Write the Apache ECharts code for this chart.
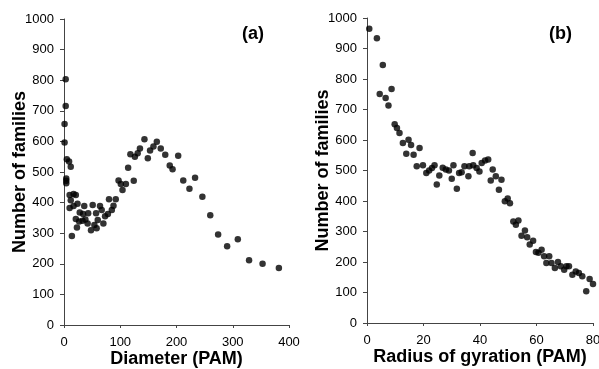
<!DOCTYPE html>
<html>
<head>
<meta charset="utf-8">
<script src="https://cdn.jsdelivr.net/npm/echarts@6/dist/echarts.min.js"></script>
<style>
  html, body { margin: 0; padding: 0; background: #fff; }
  #chart { width: 599px; height: 369px; }
</style>
</head>
<body>
<div id="chart"></div>
<script>
// panel (a): [diameter, number of families]
const diameterPoints = [
  [3, 803], [3, 716], [1, 657], [1, 596], [5, 542], [9, 534], [12, 517], [4, 479], [4, 463], [4, 471],
  [10, 425], [17, 428], [21, 425], [12, 408], [10, 382], [17, 389], [24, 396], [14, 291], [23, 319], [21, 346],
  [28, 368], [27, 338], [36, 389], [34, 363], [33, 341], [38, 345], [42, 332], [43, 365], [48, 310], [51, 392],
  [54, 327], [58, 316], [57, 365], [60, 343], [64, 389], [67, 376], [70, 332], [73, 355], [78, 363], [80, 411],
  [85, 376], [88, 390], [92, 411], [97, 472], [104, 441], [101, 461], [110, 461], [114, 514], [124, 471], [118, 558],
  [126, 550], [135, 577], [131, 561], [143, 607], [149, 545], [153, 570], [159, 583], [165, 599], [172, 577], [180, 556],
  [188, 521], [193, 509], [203, 553], [212, 472], [223, 445], [233, 481], [246, 419], [260, 359], [274, 296], [290, 257],
  [309, 280], [329, 212], [353, 200], [382, 186]
];

// panel (b): [radius of gyration, number of families]
const radiusPoints = [
  [0.8, 965], [3.5, 934], [5.6, 846], [4.5, 751], [6.6, 738], [7.6, 713], [8.7, 767], [9.8, 652], [10.6, 639], [11.5, 623],
  [12.7, 590], [13.9, 555], [14.7, 601], [15.6, 584], [16.5, 552], [17.6, 514], [18.6, 574], [19.8, 517], [21, 492], [22, 500],
  [23, 508], [23.9, 517], [24.7, 454], [25.6, 484], [26.8, 509], [27.9, 503], [29, 500], [30, 473], [30.6, 517], [31.8, 440],
  [32.6, 492], [33.5, 494], [34.5, 514], [35.9, 481], [36.2, 514], [37.4, 557], [37.6, 517], [38.8, 508], [39.8, 497], [40.6, 525],
  [41.8, 533], [42.9, 536], [43.8, 467], [44.5, 503], [45.6, 481], [46.7, 437], [47.6, 470], [48.8, 399], [49.8, 408], [50.6, 393],
  [51.8, 333], [52.7, 322], [53.6, 336], [54.7, 286], [55.9, 303], [56.7, 281], [57.6, 257], [58.8, 270], [59.8, 233], [60.7, 230],
  [61.8, 240], [62.7, 219], [63.5, 197], [64.5, 219], [65.3, 197], [66.5, 180], [67.6, 200], [68.6, 186], [69.8, 175], [70.6, 186],
  [71.5, 186], [72.7, 158], [73.9, 169], [75, 164], [76.2, 153], [77.6, 104], [78.8, 144], [80, 128]
];

const panelLabels = ["(a)", "(b)"];
const xNames = ["Diameter (PAM)", "Radius of gyration (PAM)"];
const yName = "Number of families";

const font = "Liberation Sans, Arial, Helvetica, sans-serif";
const axisColor = "#444";

const makeX = (gridIndex, max, interval, name) => ({
  type: "value",
  gridIndex,
  min: 0,
  max,
  interval,
  name,
  nameLocation: "middle",
  nameGap: 25,
  nameMoveOverlap: false,
  nameTextStyle: { fontFamily: font, fontSize: 18, fontWeight: "bold", color: "#000" },
  axisLine: { lineStyle: { color: axisColor, width: 1 } },
  axisTick: { show: true, length: 3, lineStyle: { color: axisColor } },
  axisLabel: { color: "#000", fontFamily: font, fontSize: 13, margin: 11, hideOverlap: false },
  splitLine: { show: false },
});

const makeY = (gridIndex) => ({
  type: "value",
  gridIndex,
  min: 0,
  max: 1000,
  interval: 100,
  name: yName,
  nameLocation: "middle",
  nameGap: 35,
  nameMoveOverlap: false,
  nameTextStyle: { fontFamily: font, fontSize: 18, fontWeight: "bold", color: "#000" },
  axisLine: { show: true, lineStyle: { color: axisColor, width: 1 } },
  axisTick: { show: true, length: 4, lineStyle: { color: axisColor } },
  axisLabel: { color: "#000", fontFamily: font, fontSize: 13, margin: 10, formatter: (v) => String(v) },
  splitLine: { show: false },
});

const chart = echarts.init(document.getElementById("chart"), null, { renderer: "canvas" });

chart.setOption({
  animation: false,
  backgroundColor: "#fff",
  title: [
    { text: panelLabels[0], left: 242, top: 25, padding: 0,
      textStyle: { fontFamily: font, fontSize: 18, fontWeight: "bold", color: "#000" } },
    { text: panelLabels[1], left: 549, top: 25, padding: 0,
      textStyle: { fontFamily: font, fontSize: 18, fontWeight: "bold", color: "#000" } },
  ],
  grid: [
    { left: 64, top: 19, width: 225, height: 306, outerBoundsMode: "none" },
    { left: 367, top: 18, width: 226, height: 305, outerBoundsMode: "none" },
  ],
  xAxis: [makeX(0, 400, 100, xNames[0]), makeX(1, 80, 20, xNames[1])],
  yAxis: [makeY(0), makeY(1)],
  series: [
    {
      type: "scatter",
      xAxisIndex: 0,
      yAxisIndex: 0,
      data: diameterPoints,
      symbol: "circle",
      symbolSize: 6.5,
      itemStyle: { color: "#000" },
    },
    {
      type: "scatter",
      xAxisIndex: 1,
      yAxisIndex: 1,
      data: radiusPoints,
      symbol: "circle",
      symbolSize: 6.5,
      itemStyle: { color: "#000" },
    },
  ],
});
</script>
</body>
</html>
